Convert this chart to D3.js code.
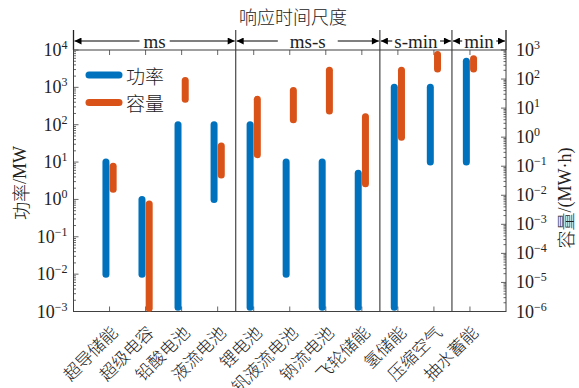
<!DOCTYPE html>
<html>
<head>
<meta charset="utf-8">
<script src="https://cdn.jsdelivr.net/npm/d3@7"></script>
<style>
  html, body { margin: 0; padding: 0; background: #fff; }
  svg { display: block; }
</style>
</head>
<body>
<svg id="chart" width="579" height="388"></svg>
<script>
// Storage technologies, ordered by response time
const categories = ["超导储能", "超级电容", "铅酸电池", "液流电池", "锂电池", "全钒液流电池",
                    "钠流电池", "飞轮储能", "氢储能", "压缩空气", "抽水蓄能"];
// Power range (MW)
const powerMin = [0.01, 0.01, 0.0013, 1, 0.0013, 0.01, 0.0013, 0.0013, 0.0013, 10, 10];
const powerMax = [10, 1, 100, 100, 100, 10, 10, 5, 1000, 1000, 5000];
// Capacity range (MW·h)
const capMin = [0.016, 1.3e-6, 20, 0.05, 0.25, 4, 8, 0.025, 1, 220, 220];
const capMax = [0.1, 0.005, 90, 0.5, 20, 40, 200, 5, 200, 700, 500];
// Response-time groups: [first category index, last category index] (1-based)
const groups = [
  { label: "ms",    from: 1, to: 4 },
  { label: "ms-s",  from: 5, to: 8 },
  { label: "s-min", from: 9, to: 10 },
  { label: "min",   from: 11, to: 11 }
];
const leftTicks = [-3, -2, -1, 0, 1, 2, 3, 4];
const rightTicks = [-6, -5, -4, -3, -2, -1, 0, 1, 2, 3];

const BLUE = "#0072BD", ORANGE = "#D95319", AXIS = "#404040";
const SERIF = "'Liberation Serif', 'Times New Roman', serif";
const CJK = "'Noto Sans CJK SC', sans-serif";

const svg = d3.select("#chart");
const m = { left: 73.5, right: 506, top: 50, bottom: 311.5 };

const x = d3.scaleLinear().domain([0, categories.length + 1]).range([m.left, m.right]);
const yL = d3.scaleLog().domain([1e-3, 1e4]).range([m.bottom, m.top]);
const yR = d3.scaleLog().domain([1e-6, 1e3]).range([m.bottom, m.top]);

// Title
svg.append("text").attr("x", 293).attr("y", 16).attr("text-anchor", "middle")
  .attr("dominant-baseline", "central").attr("font-family", CJK).attr("font-weight", 300)
  .attr("font-size", 18).attr("fill", "#222").text("响应时间尺度");

// Group separators (inside plot and above it)
const bounds = [0];
groups.forEach(g => bounds.push(g.to + 0.5));
bounds[bounds.length - 1] = categories.length + 1;
bounds.forEach((b, i) => {
  const inner = i > 0 && i < bounds.length - 1;
  svg.append("line").attr("x1", x(b)).attr("x2", x(b))
    .attr("y1", 30).attr("y2", inner ? m.bottom : m.top)
    .attr("stroke", inner ? "#555" : "#222").attr("stroke-width", 1.3);
});

// Arrow markers
const defs = svg.append("defs");
defs.append("marker").attr("id", "arr").attr("viewBox", "0 0 10 10")
  .attr("refX", 10).attr("refY", 5).attr("markerWidth", 9).attr("markerHeight", 7)
  .attr("markerUnits", "userSpaceOnUse").attr("orient", "auto-start-reverse")
  .append("path").attr("d", "M0,0 L10,5 L0,10 Z").attr("fill", "#000");

const arrowY = 41;
groups.forEach(g => {
  const x0 = x(g.from === 1 ? 0 : g.from - 0.5);
  const x1 = x(g.to === categories.length ? categories.length + 1 : g.to + 0.5);
  svg.append("line").attr("x1", x0 + 1).attr("x2", x1 - 1).attr("y1", arrowY).attr("y2", arrowY)
    .attr("stroke", "#000").attr("stroke-width", 1)
    .attr("marker-start", "url(#arr)").attr("marker-end", "url(#arr)");
  const t = svg.append("text").attr("x", (x0 + x1) / 2).attr("y", arrowY)
    .attr("text-anchor", "middle").attr("dominant-baseline", "central")
    .attr("font-family", SERIF).attr("font-size", 19).attr("fill", "#222").text(g.label);
  const bb = t.node().getBBox();
  const pad = g.label === "ms-s" ? 12 : (g.label === "ms" ? 4 : 2);
  svg.insert("rect", () => t.node()).attr("x", bb.x - pad).attr("y", arrowY - 4)
    .attr("width", bb.width + 2 * pad).attr("height", 8).attr("fill", "#fff");
});

// Plot frame
svg.append("rect").attr("x", m.left).attr("y", m.top)
  .attr("width", m.right - m.left).attr("height", m.bottom - m.top)
  .attr("fill", "none").attr("stroke", AXIS).attr("stroke-width", 1);

// Log ticks: majors and minors
function logTicks(lo, hi) {
  const out = [];
  for (let e = lo; e < hi; e++) for (let k = 1; k < 10; k++) out.push({ v: k * Math.pow(10, e), major: k === 1 });
  out.push({ v: Math.pow(10, hi), major: true });
  return out;
}
logTicks(-3, 4).forEach(t => {
  svg.append("line").attr("x1", m.left).attr("x2", m.left + (t.major ? 5 : 2.5))
    .attr("y1", yL(t.v)).attr("y2", yL(t.v)).attr("stroke", AXIS).attr("stroke-width", 0.8);
});
logTicks(-6, 3).forEach(t => {
  svg.append("line").attr("x1", m.right).attr("x2", m.right - (t.major ? 5 : 2.5))
    .attr("y1", yR(t.v)).attr("y2", yR(t.v)).attr("stroke", AXIS).attr("stroke-width", 0.8);
});
categories.forEach((c, i) => {
  [m.bottom, m.top].forEach((yy, j) => {
    svg.append("line").attr("x1", x(i + 1)).attr("x2", x(i + 1))
      .attr("y1", yy).attr("y2", j === 0 ? yy - 5 : yy + 5)
      .attr("stroke", AXIS).attr("stroke-width", 0.8);
  });
});

// Power-of-ten tick labels
function powLabel(xp, yp, e, anchor) {
  const t = svg.append("text").attr("x", xp).attr("y", yp + 6).attr("text-anchor", anchor)
    .attr("font-family", SERIF).attr("font-size", 18).attr("fill", "#222");
  t.append("tspan").text("10");
  t.append("tspan").attr("dy", -7).attr("font-size", 12).text(e < 0 ? "\u2212" + (-e) : e);
}
leftTicks.forEach(e => powLabel(m.left - 6, yL(Math.pow(10, e)), e, "end"));
rightTicks.forEach(e => powLabel(m.right + 10, yR(Math.pow(10, e)), e, "start"));

// Axis titles
function mixedLabel(xp, yp, parts) {
  const t = svg.append("text").attr("transform", `translate(${xp},${yp}) rotate(-90)`)
    .attr("text-anchor", "middle").attr("dominant-baseline", "central")
    .attr("font-size", 18).attr("fill", "#222");
  parts.forEach(p => t.append("tspan").attr("font-family", p[1] ? CJK : SERIF)
    .attr("font-weight", p[1] ? 300 : 400).text(p[0]));
}
mixedLabel(20, 183, [["功率", true], ["/MW", false]]);
mixedLabel(565, 198, [["容量", true], ["/(MW·h)", false]]);

// Category labels, rotated
categories.forEach((c, i) => {
  svg.append("text").attr("transform", `translate(${x(i + 1) + 4},${m.bottom + 17}) rotate(-45)`)
    .attr("text-anchor", "end").attr("dominant-baseline", "central")
    .attr("font-family", CJK).attr("font-weight", 300).attr("font-size", 17)
    .attr("fill", "#222").text(c);
});

// Range bars
const off = 0.1;
const bars = svg.append("g").attr("stroke-linecap", "round").attr("stroke-width", 7);
categories.forEach((c, i) => {
  bars.append("line").attr("x1", x(i + 1 - off)).attr("x2", x(i + 1 - off))
    .attr("y1", yL(powerMin[i])).attr("y2", yL(powerMax[i])).attr("stroke", BLUE);
});
categories.forEach((c, i) => {
  bars.append("line").attr("x1", x(i + 1 + off)).attr("x2", x(i + 1 + off))
    .attr("y1", yR(capMin[i])).attr("y2", yR(capMax[i])).attr("stroke", ORANGE);
});

// Legend
const legend = [["功率", BLUE], ["容量", ORANGE]];
legend.forEach((d, i) => {
  const ly = 75 + i * 27.5;
  svg.append("line").attr("x1", 89).attr("x2", 119).attr("y1", ly).attr("y2", ly)
    .attr("stroke", d[1]).attr("stroke-width", 7).attr("stroke-linecap", "round");
  svg.append("text").attr("x", 126).attr("y", ly).attr("dominant-baseline", "central")
    .attr("font-family", CJK).attr("font-weight", 300).attr("font-size", 19)
    .attr("fill", "#222").text(d[0]);
});
</script>
</body>
</html>
